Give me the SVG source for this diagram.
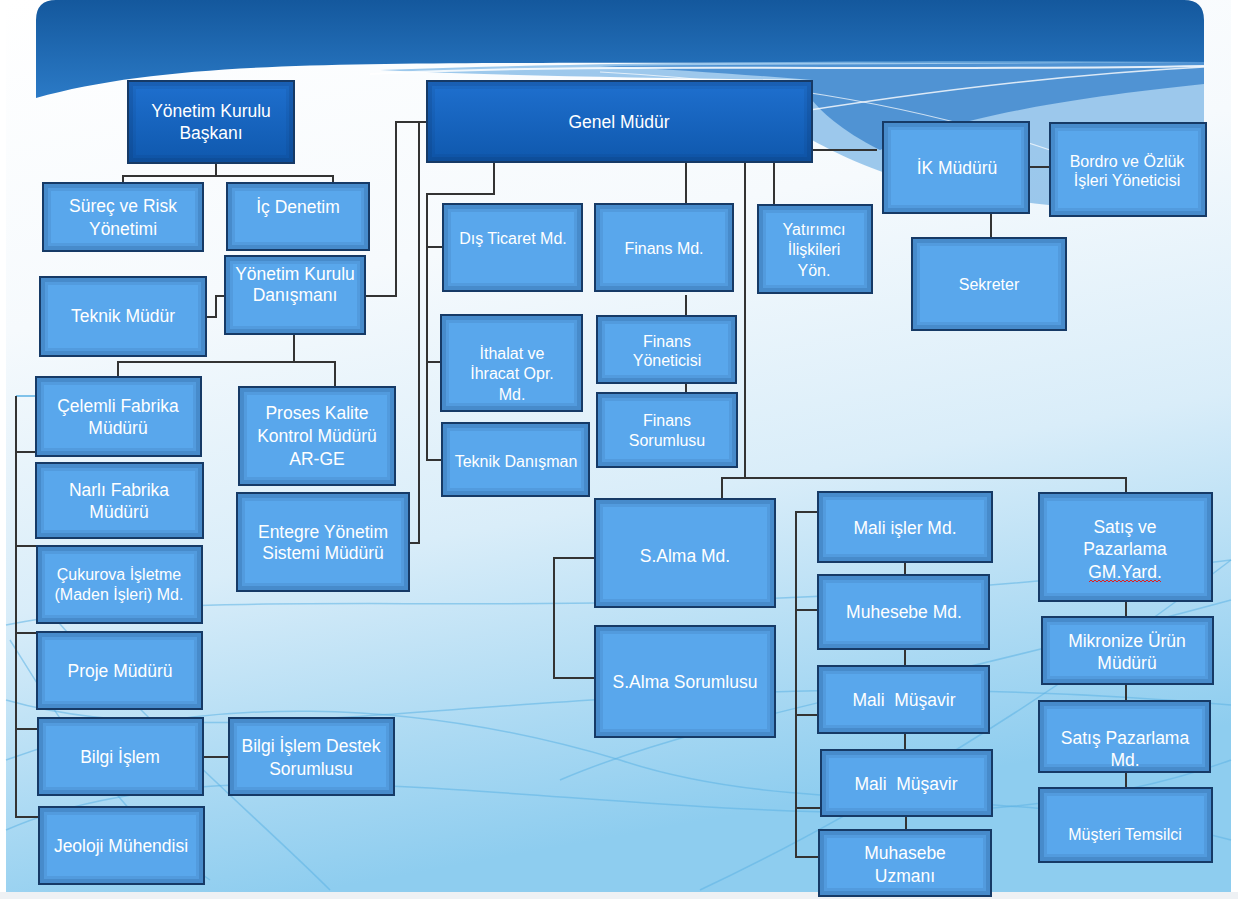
<svg xmlns="http://www.w3.org/2000/svg" width="1238" height="899" viewBox="0 0 1238 899">
<defs>
<linearGradient id="gBg" x1="0" y1="0" x2="0.25" y2="1">
<stop offset="0" stop-color="#ffffff"/>
<stop offset="0.35" stop-color="#f6fafd"/>
<stop offset="0.65" stop-color="#d9edf9"/>
<stop offset="1" stop-color="#8ecdef"/>
</linearGradient>
<linearGradient id="gHead" x1="0" y1="0" x2="0" y2="1">
<stop offset="0" stop-color="#14589d"/>
<stop offset="1" stop-color="#2b7ac6"/>
</linearGradient>
<linearGradient id="gDark" x1="0" y1="0" x2="0" y2="1">
<stop offset="0" stop-color="#1f70cf"/>
<stop offset="1" stop-color="#0f58ad"/>
</linearGradient>
<style>
.box{fill:#59a7ec;stroke:#163a66;stroke-width:2}
.dark{fill:url(#gDark)}
.i1{fill:none;stroke:#0b2a58;stroke-width:4;stroke-opacity:0.22}
.i2{fill:none;stroke:#0b2a58;stroke-width:3;stroke-opacity:0.09}
.t{font-family:"Liberation Sans",Arial,sans-serif;font-size:17.5px;fill:#ffffff;text-anchor:middle;white-space:pre}
.s{font-size:16px}
.c{fill:none;stroke:#333333;stroke-width:2}
.w{fill:none;stroke:#5db3e4;stroke-width:1.5;opacity:0.55}
</style>
</defs>

<!-- background -->
<rect x="0" y="0" width="1238" height="899" fill="#ffffff"/>
<rect x="6" y="0" width="1225" height="892" fill="url(#gBg)"/>
<rect x="0" y="892" width="1238" height="7" fill="#eef1f4"/>
<g id="waves">
<path class="w" d="M6,625 C250,575 600,640 1231,560"/>
<path class="w" d="M6,700 C250,770 600,650 1231,705"/>
<path class="w" d="M6,830 C300,700 850,900 1231,760"/>
<path class="w" d="M6,760 C200,690 420,700 620,760 C800,820 1000,780 1231,840"/>
<path class="w" d="M10,640 C60,720 120,820 210,880"/>
<path class="w" d="M40,600 C120,700 260,820 330,890"/>
<path class="w" d="M700,890 C850,820 1050,700 1231,560"/>
<path class="w" d="M560,780 C700,720 900,690 1231,600"/>
</g>
<!-- header -->
<path d="M36,98 L36,20 Q36,0 56,0 L1184,0 Q1204,0 1204,20 L1204,62 C1000,64 700,62 500,63 C300,64 150,66 36,98 Z" fill="url(#gHead)"/>
<path d="M380,70 C600,62 900,60 1204,62 L1204,210 C1120,215 1000,205 900,178 C860,165 830,150 812,140 L812,80 C650,78 500,76 380,70 Z" fill="#7db7e6" opacity="0.75"/>
<path d="M600,66 C800,64 1000,64 1204,62 L1204,84 C1050,100 950,120 880,150 C840,130 820,110 812,100 L812,80 C750,75 680,70 600,66 Z" fill="#3d86cd" opacity="0.8"/>
<path d="M370,74 C600,62 900,72 1204,66" fill="none" stroke="#ffffff" stroke-width="2" opacity="0.85"/>
<path d="M760,118 C900,95 1050,75 1204,67" fill="none" stroke="#ffffff" stroke-width="1.5" opacity="0.8"/>
<path d="M600,72 C750,80 900,100 1050,150" fill="none" stroke="#ffffff" stroke-width="1.2" opacity="0.7"/>

<!-- connectors -->
<g id="connectors">
<path class="c" d="M216,163 V176 M123,183 V176 H333 V183"/>
<path class="c" d="M206,317 H216 V296 H225"/>
<path class="c" d="M365,296 H396 V122 H427"/>
<path class="c" d="M419,122 V543 H409"/>
<path class="c" d="M294,334 V362 M118,377 V362 H335 V388"/>
<path d="M16,396 H36" fill="none" stroke="#7fc2ea" stroke-width="2"/>
<path class="c" d="M16,396 V817 H39 M16,452 H38 M16,546 H37 M16,633 H37 M16,729 H38"/>
<path class="c" d="M203,757 H229"/>
<path class="c" d="M494,162 V194 H427 V460 H442 M427,247 H443 M427,362 H441"/>
<path class="c" d="M686,162 V204"/>
<path class="c" d="M774,162 V205"/>
<path class="c" d="M812,150 H877"/>
<path class="c" d="M1029,167 H1056"/>
<path class="c" d="M991,213 V238"/>
<path class="c" d="M686,295 V316 M686,383 V393"/>
<path class="c" d="M745,162 V478 M722,499 V478 H1126 V493"/>
<path class="c" d="M598,558 H554 V678 H598"/>
<path class="c" d="M818,512 H796 V857 H822 M796,610 H818 M796,715 H822 M796,808 H822"/>
<path class="c" d="M905,562 V575 M905,649 V666 M905,733 V750 M906,816 V830"/>
<path class="c" d="M1126,601 V617 M1126,684 V701 M1126,772 V788"/>
</g>

<!-- nodes -->
<g id="n-ykb"><rect class="box dark" x="128" y="81" width="166" height="82"/><rect class="i1" x="131" y="84" width="160" height="76"/><rect class="i2" x="134.5" y="87.5" width="153" height="69"/><text class="t" x="211" y="117">Yönetim Kurulu</text><text class="t" x="211" y="139">Başkanı</text></g>
<g id="n-surec"><rect class="box" x="43" y="183" width="160" height="68"/><rect class="i1" x="46" y="186" width="154" height="62"/><rect class="i2" x="49.5" y="189.5" width="147" height="55"/><text class="t" x="123" y="212">Süreç ve Risk</text><text class="t" x="123" y="235">Yönetimi</text></g>
<g id="n-icdenetim"><rect class="box" x="227" y="183" width="142" height="67"/><rect class="i1" x="230" y="186" width="136" height="61"/><rect class="i2" x="233.5" y="189.5" width="129" height="54"/><text class="t" x="298" y="213">İç Denetim</text></g>
<g id="n-teknikmudur"><rect class="box" x="40" y="277" width="166" height="79"/><rect class="i1" x="43" y="280" width="160" height="73"/><rect class="i2" x="46.5" y="283.5" width="153" height="66"/><text class="t" x="123" y="322">Teknik Müdür</text></g>
<g id="n-ykd"><rect class="box" x="225" y="256" width="140" height="78"/><rect class="i1" x="228" y="259" width="134" height="72"/><rect class="i2" x="231.5" y="262.5" width="127" height="65"/><text class="t" x="295" y="280">Yönetim Kurulu</text><text class="t" x="295" y="301">Danışmanı</text></g>
<g id="n-celemli"><rect class="box" x="36" y="377" width="165" height="79"/><rect class="i1" x="39" y="380" width="159" height="73"/><rect class="i2" x="42.5" y="383.5" width="152" height="66"/><text class="t" x="118" y="412">Çelemli Fabrika</text><text class="t" x="118" y="434">Müdürü</text></g>
<g id="n-narli"><rect class="box" x="36" y="463" width="167" height="75"/><rect class="i1" x="39" y="466" width="161" height="69"/><rect class="i2" x="42.5" y="469.5" width="154" height="62"/><text class="t" x="119" y="496">Narlı Fabrika</text><text class="t" x="119" y="518">Müdürü</text></g>
<g id="n-proses"><rect class="box" x="239" y="387" width="156" height="98"/><rect class="i1" x="242" y="390" width="150" height="92"/><rect class="i2" x="245.5" y="393.5" width="143" height="85"/><text class="t" x="317" y="419">Proses Kalite</text><text class="t" x="317" y="442">Kontrol Müdürü</text><text class="t" x="317" y="465">AR-GE</text></g>
<g id="n-entegre"><rect class="box" x="237" y="493" width="172" height="98"/><rect class="i1" x="240" y="496" width="166" height="92"/><rect class="i2" x="243.5" y="499.5" width="159" height="85"/><text class="t" x="323" y="538">Entegre Yönetim</text><text class="t" x="323" y="559">Sistemi Müdürü</text></g>
<g id="n-cukurova"><rect class="box" x="37" y="546" width="165" height="77"/><rect class="i1" x="40" y="549" width="159" height="71"/><rect class="i2" x="43.5" y="552.5" width="152" height="64"/><text class="t s" x="119" y="580">Çukurova İşletme</text><text class="t s" x="119" y="600">(Maden İşleri) Md.</text></g>
<g id="n-proje"><rect class="box" x="37" y="632" width="165" height="77"/><rect class="i1" x="40" y="635" width="159" height="71"/><rect class="i2" x="43.5" y="638.5" width="152" height="64"/><text class="t" x="120" y="677">Proje Müdürü</text></g>
<g id="n-bilgi"><rect class="box" x="38" y="718" width="165" height="77"/><rect class="i1" x="41" y="721" width="159" height="71"/><rect class="i2" x="44.5" y="724.5" width="152" height="64"/><text class="t" x="120" y="763">Bilgi İşlem</text></g>
<g id="n-bilgidestek"><rect class="box" x="229" y="718" width="165" height="77"/><rect class="i1" x="232" y="721" width="159" height="71"/><rect class="i2" x="235.5" y="724.5" width="152" height="64"/><text class="t" x="311" y="752">Bilgi İşlem Destek</text><text class="t" x="311" y="775">Sorumlusu</text></g>
<g id="n-jeoloji"><rect class="box" x="39" y="807" width="165" height="77"/><rect class="i1" x="42" y="810" width="159" height="71"/><rect class="i2" x="45.5" y="813.5" width="152" height="64"/><text class="t" x="121" y="852">Jeoloji Mühendisi</text></g>
<g id="n-genel"><rect class="box dark" x="427" y="81" width="385" height="81"/><rect class="i1" x="430" y="84" width="379" height="75"/><rect class="i2" x="433.5" y="87.5" width="372" height="68"/><text class="t" x="619" y="128">Genel Müdür</text></g>
<g id="n-disticaret"><rect class="box" x="443" y="204" width="139" height="87"/><rect class="i1" x="446" y="207" width="133" height="81"/><rect class="i2" x="449.5" y="210.5" width="126" height="74"/><text class="t s" x="513" y="244">Dış Ticaret Md.</text></g>
<g id="n-finansmd"><rect class="box" x="595" y="204" width="138" height="87"/><rect class="i1" x="598" y="207" width="132" height="81"/><rect class="i2" x="601.5" y="210.5" width="125" height="74"/><text class="t s" x="664" y="254">Finans Md.</text></g>
<g id="n-yatirimci"><rect class="box" x="758" y="205" width="114" height="88"/><rect class="i1" x="761" y="208" width="108" height="82"/><rect class="i2" x="764.5" y="211.5" width="101" height="75"/><text class="t s" x="814" y="235">Yatırımcı</text><text class="t s" x="814" y="255">İlişkileri</text><text class="t s" x="814" y="276">Yön.</text></g>
<g id="n-ik"><rect class="box" x="883" y="122" width="146" height="91"/><rect class="i1" x="886" y="125" width="140" height="85"/><rect class="i2" x="889.5" y="128.5" width="133" height="78"/><text class="t" x="957" y="174">İK Müdürü</text></g>
<g id="n-bordro"><rect class="box" x="1050" y="123" width="156" height="93"/><rect class="i1" x="1053" y="126" width="150" height="87"/><rect class="i2" x="1056.5" y="129.5" width="143" height="80"/><text class="t s" x="1127" y="167">Bordro ve Özlük</text><text class="t s" x="1127" y="186">İşleri Yöneticisi</text></g>
<g id="n-sekreter"><rect class="box" x="912" y="238" width="154" height="92"/><rect class="i1" x="915" y="241" width="148" height="86"/><rect class="i2" x="918.5" y="244.5" width="141" height="79"/><text class="t s" x="989" y="290">Sekreter</text></g>
<g id="n-ithalat"><rect class="box" x="441" y="315" width="141" height="96"/><rect class="i1" x="444" y="318" width="135" height="90"/><rect class="i2" x="447.5" y="321.5" width="128" height="83"/><text class="t s" x="512" y="359">İthalat ve</text><text class="t s" x="512" y="379">İhracat Opr.</text><text class="t s" x="512" y="400">Md.</text></g>
<g id="n-teknikdanisman"><rect class="box" x="442" y="423" width="147" height="73"/><rect class="i1" x="445" y="426" width="141" height="67"/><rect class="i2" x="448.5" y="429.5" width="134" height="60"/><text class="t s" x="516" y="467">Teknik Danışman</text></g>
<g id="n-finansyon"><rect class="box" x="597" y="316" width="139" height="67"/><rect class="i1" x="600" y="319" width="133" height="61"/><rect class="i2" x="603.5" y="322.5" width="126" height="54"/><text class="t s" x="667" y="347">Finans</text><text class="t s" x="667" y="366">Yöneticisi</text></g>
<g id="n-finanssor"><rect class="box" x="597" y="393" width="140" height="74"/><rect class="i1" x="600" y="396" width="134" height="68"/><rect class="i2" x="603.5" y="399.5" width="127" height="61"/><text class="t s" x="667" y="426">Finans</text><text class="t s" x="667" y="446">Sorumlusu</text></g>
<g id="n-salmamd"><rect class="box" x="595" y="499" width="180" height="108"/><rect class="i1" x="598" y="502" width="174" height="102"/><rect class="i2" x="601.5" y="505.5" width="167" height="95"/><text class="t" x="685" y="562">S.Alma Md.</text></g>
<g id="n-salmasor"><rect class="box" x="595" y="626" width="180" height="111"/><rect class="i1" x="598" y="629" width="174" height="105"/><rect class="i2" x="601.5" y="632.5" width="167" height="98"/><text class="t" x="685" y="688">S.Alma Sorumlusu</text></g>
<g id="n-maliisler"><rect class="box" x="818" y="492" width="174" height="70"/><rect class="i1" x="821" y="495" width="168" height="64"/><rect class="i2" x="824.5" y="498.5" width="161" height="57"/><text class="t" x="905" y="534">Mali işler Md.</text></g>
<g id="n-muhesebe"><rect class="box" x="818" y="575" width="171" height="74"/><rect class="i1" x="821" y="578" width="165" height="68"/><rect class="i2" x="824.5" y="581.5" width="158" height="61"/><text class="t" x="904" y="618">Muhesebe Md.</text></g>
<g id="n-musavir1"><rect class="box" x="818" y="666" width="171" height="67"/><rect class="i1" x="821" y="669" width="165" height="61"/><rect class="i2" x="824.5" y="672.5" width="158" height="54"/><text class="t" x="904" y="706">Mali  Müşavir</text></g>
<g id="n-musavir2"><rect class="box" x="821" y="750" width="171" height="66"/><rect class="i1" x="824" y="753" width="165" height="60"/><rect class="i2" x="827.5" y="756.5" width="158" height="53"/><text class="t" x="906" y="790">Mali  Müşavir</text></g>
<g id="n-muhasebeuzm"><rect class="box" x="819" y="830" width="172" height="66"/><rect class="i1" x="822" y="833" width="166" height="60"/><rect class="i2" x="825.5" y="836.5" width="159" height="53"/><text class="t" x="905" y="859">Muhasebe</text><text class="t" x="905" y="882">Uzmanı</text></g>
<g id="n-satisgm"><rect class="box" x="1039" y="493" width="173" height="108"/><rect class="i1" x="1042" y="496" width="167" height="102"/><rect class="i2" x="1045.5" y="499.5" width="160" height="95"/><text class="t" x="1125" y="533">Satış ve</text><text class="t" x="1125" y="555">Pazarlama</text><text class="t" x="1125" y="578">GM.Yard.</text><path d="M1089,582 l2,-2 2,2 2,-2 2,2 2,-2 2,2 2,-2 2,2 2,-2 2,2 2,-2 2,2 2,-2 2,2 2,-2 2,2 2,-2 2,2 2,-2 2,2 2,-2 2,2 2,-2 2,2 2,-2 2,2 2,-2 2,2 2,-2 2,2 2,-2 2,2 2,-2 2,2 2,-2 2,2" fill="none" stroke="#e02020" stroke-width="1"/></g>
<g id="n-mikronize"><rect class="box" x="1042" y="617" width="171" height="67"/><rect class="i1" x="1045" y="620" width="165" height="61"/><rect class="i2" x="1048.5" y="623.5" width="158" height="54"/><text class="t" x="1127" y="647">Mikronize Ürün</text><text class="t" x="1127" y="669">Müdürü</text></g>
<g id="n-satismd"><rect class="box" x="1039" y="701" width="171" height="71"/><rect class="i1" x="1042" y="704" width="165" height="65"/><rect class="i2" x="1045.5" y="707.5" width="158" height="58"/><text class="t" x="1125" y="744">Satış Pazarlama</text><text class="t" x="1125" y="766">Md.</text></g>
<g id="n-musteri"><rect class="box" x="1039" y="788" width="173" height="74"/><rect class="i1" x="1042" y="791" width="167" height="68"/><rect class="i2" x="1045.5" y="794.5" width="160" height="61"/><text class="t s" x="1125" y="840">Müşteri Temsilci</text></g>
</svg>
